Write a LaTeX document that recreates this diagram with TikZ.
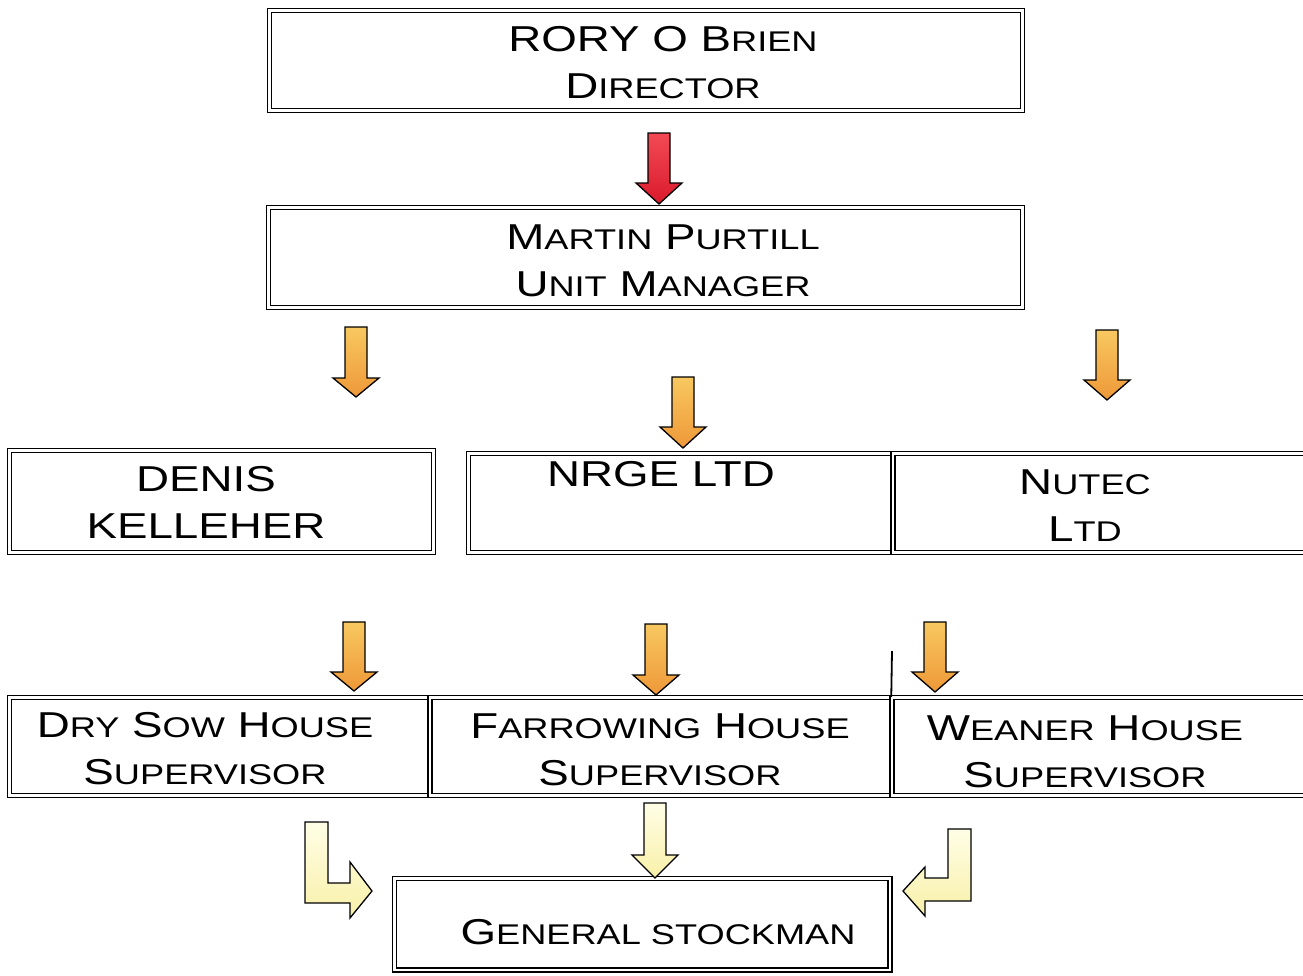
\documentclass[tikz,border=0pt]{standalone}
\usepackage{fontspec}
\setmainfont{Liberation Sans}[FakeStretch=1.27]
\usetikzlibrary{fit}
\definecolor{redA}{HTML}{F24A55}
\definecolor{redB}{HTML}{DA1A2C}
\definecolor{orA}{HTML}{F8C860}
\definecolor{orB}{HTML}{EE9838}
\definecolor{yelA}{HTML}{FFFEE6}
\definecolor{yelB}{HTML}{F8F0A8}
\newcommand\smc[1]{{\fontsize{28.5}{47}\selectfont #1}}
\newcommand\dnarr[5]{%
  \draw[#1] ({#2-11},#3) -- ({#2+11},#3) -- ({#2+11},#4) -- ({#2+23},#4)
    -- (#2,#5) -- ({#2-23},#4) -- ({#2-11},#4) -- cycle;}
\begin{document}
\begin{tikzpicture}[x=1pt,y=-1pt,
  box/.style={rectangle, draw=black, line width=1.5pt, double=white,
    double distance=2.2pt, inner sep=0pt},
  lbl/.style={anchor=north, inner sep=0pt, align=center,
    font=\fontsize{36}{47}\selectfont},
  blk/.style={draw=black, line width=1.3pt, line join=miter},
  redarr/.style={blk, top color=redA, bottom color=redB},
  orarr/.style={blk, top color=orA, bottom color=orB},
  yelarr/.style={blk, top color=yelA, bottom color=yelB}]
\useasboundingbox (0,0) rectangle (1303,975);

% boxes
\node[box, fit={(269.5,10.5) (1022.5,110.5)}] (dir) {};
\node[box, fit={(268.5,207.5) (1022.5,307.5)}] (mgr) {};
\node[box, fit={(9.5,450.5) (433.5,552.5)}] (denis) {};
\node[box, fit={(468.5,453.5) (893,552.5)}] (nrge) {};
\node[box, fit={(893,453.5) (1320,552.5)}] (nutec) {};
\node[box, fit={(9.5,697.5) (430,795.5)}] (drysow) {};
\node[box, fit={(430,697.5) (892,795.5)}] (farrow) {};
\node[box, fit={(892,697.5) (1320,795.5)}] (weaner) {};
\node[box, fit={(394.5,878.5) (890,970)}] (stock) {};

% labels
\node[lbl] (tdir) at (663,26) {RORY O B\smc{RIEN}\\D\smc{IRECTOR}};
\node[lbl] (tmgr) at (663,225) {M\smc{ARTIN} P\smc{URTILL}\\U\smc{NIT} M\smc{ANAGER}};
\node[lbl] (tdenis) at (206,466) {DENIS\\KELLEHER};
\node[lbl] (tnrge) at (661,461) {NRGE LTD};
\node[lbl] (tnutec) at (1085,470) {N\smc{UTEC}\\L\smc{TD}};
\node[lbl] (tdrysow) at (205,712) {D\smc{RY} S\smc{OW} H\smc{OUSE}\\S\smc{UPERVISOR}};
\node[lbl] (tfarrow) at (660,714) {F\smc{ARROWING} H\smc{OUSE}\\S\smc{UPERVISOR}};
\node[lbl] (tweaner) at (1085,716) {W\smc{EANER} H\smc{OUSE}\\S\smc{UPERVISOR}};
\node[lbl] (tstock) at (658,919) {G\smc{ENERAL STOCKMAN}};

% divider stub above weaner
\draw[line width=1.8pt] (892,651) -- (weaner.north west);

% arrows
\dnarr{redarr}{659}{133}{183}{204}
\dnarr{orarr}{356}{327}{378}{397}
\dnarr{orarr}{683}{377}{427}{448}
\dnarr{orarr}{1107}{330}{380}{400}
\dnarr{orarr}{354}{622}{672}{691}
\dnarr{orarr}{656}{624}{675}{695}
\dnarr{orarr}{935}{622}{672}{692}
\dnarr{yelarr}{655}{803}{855}{878}

% bent arrows
\draw[yelarr] (305,822) -- (328,822) -- (328,883) -- (350,883) -- (350,862)
  -- (372,891) -- (350,918) -- (350,903) -- (305,903) -- cycle;
\draw[yelarr] (971,829) -- (948,829) -- (948,878) -- (925,878) -- (925,867)
  -- (903,891) -- (925,916) -- (925,901) -- (971,901) -- cycle;
\end{tikzpicture}
\end{document}
